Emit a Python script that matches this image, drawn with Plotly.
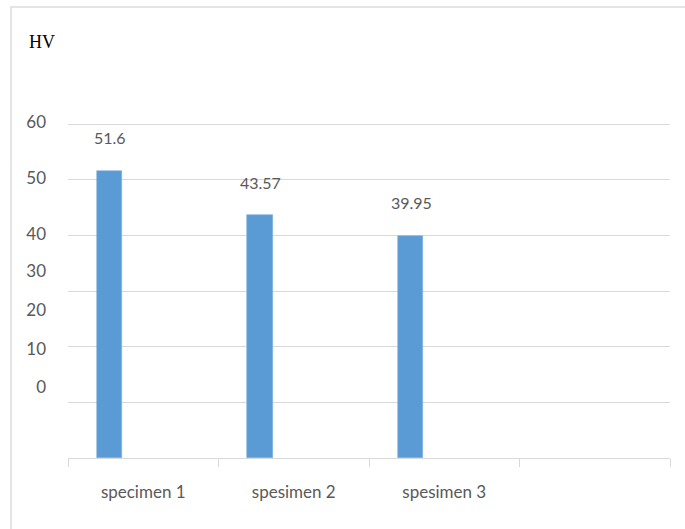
import plotly.graph_objects as go

# ---- data ----
categories = ["specimen 1", "spesimen 2", "spesimen 3", " "]
hv_values = [51.6, 43.57, 39.95, None]
value_labels = ["51.6", "43.57", "39.95"]
y_tick_text = ["0", "10", "20", "30", "40", "50", "60"]

# layout-only: where the (oddly placed) y tick labels sit in the reference
y_tick_label_pos = [12.72, 19.6, 26.53, 33.54, 40.27, 50.3, 60.36]

BAR_COLOR = "#5b9bd5"
GRID = "#d9d9d9"
TXT = "#595959"
FONT = "Lato"
FS = 17

fig = go.Figure()
fig.add_trace(go.Bar(
    x=categories, y=hv_values,
    width=0.17, offset=-0.309,
    marker=dict(color=BAR_COLOR, line=dict(color="#7fb2e0", width=0.6)),
    showlegend=False, hoverinfo="skip",
))

for cat, val, lab in zip(categories, hv_values, value_labels):
    fig.add_annotation(x=cat, y=val, text=lab, showarrow=False,
                       xref="x", yref="y", xshift=-33, yshift=33,
                       yanchor="middle", xanchor="center",
                       font=dict(family=FONT, size=16, color=TXT))

fig.add_annotation(xref="paper", yref="paper", x=-0.044, y=1.2308,
                   text="HV", showarrow=False, xanchor="center", yanchor="middle",
                   font=dict(family="Liberation Serif", size=18, color="#000000"))

# outer frame (only top and left visible in reference)
fig.add_shape(type="rect", xref="paper", yref="paper",
              x0=-0.0947, y0=-0.6, x1=1.2, y1=1.3343,
              line=dict(color="#dcdcdc", width=1.5), layer="below")

fig.update_layout(
    width=685, height=529,
    margin=dict(l=68, r=15, t=120, b=71),
    paper_bgcolor="white", plot_bgcolor="white",
    bargap=0,
    xaxis=dict(
        type="category", categoryorder="array", categoryarray=categories,
        range=[-0.5, 3.5],
        showline=True, linecolor=GRID, linewidth=1,
        ticks="outside", tickson="boundaries", ticklen=8, tickcolor=GRID,
        showgrid=False, ticklabelstandoff=19,
        tickfont=dict(family=FONT, size=FS, color=TXT),
    ),
    yaxis=dict(
        range=[0, 60.72], tickmode="array", tickvals=[0, 10, 20, 30, 40, 50, 60],
        showgrid=True, gridcolor=GRID, gridwidth=1,
        showticklabels=False, zeroline=False, ticks="",
    ),
    yaxis2=dict(
        overlaying="y", side="left", range=[0, 60.72],
        tickmode="array", tickvals=y_tick_label_pos, ticktext=y_tick_text,
        showgrid=False, zeroline=False, ticks="", showline=False,
        ticklabelstandoff=21,
        tickfont=dict(family=FONT, size=FS, color=TXT),
    ),
)
# dummy invisible trace to activate yaxis2
fig.add_trace(go.Scatter(x=[categories[0]], y=[None], yaxis="y2",
                         showlegend=False, hoverinfo="skip"))

fig.write_html("out.html")
